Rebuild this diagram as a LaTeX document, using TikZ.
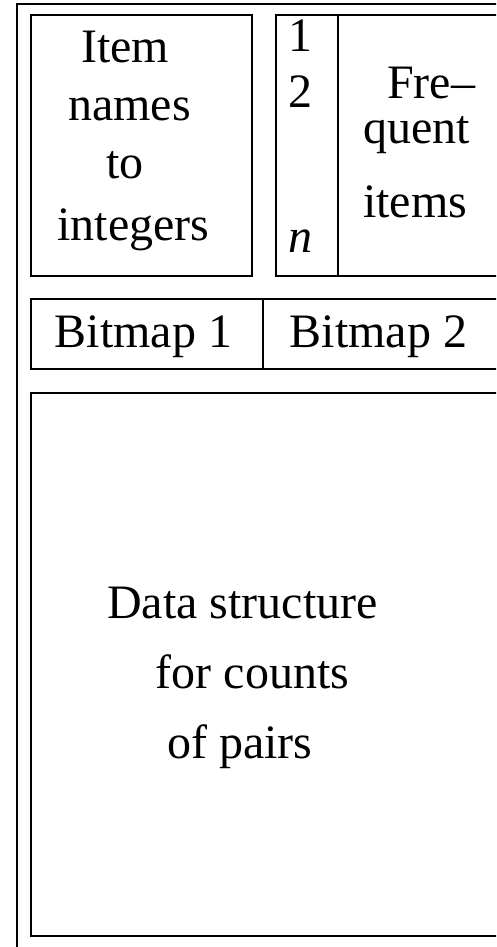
\documentclass[tikz,border=0pt]{standalone}
\usepackage{fontspec}
\setmainfont{Liberation Serif}
\tikzstyle{cell}=[draw,line width=1.5pt]
\tikzstyle{word}=[font=\fontsize{48}{58}\selectfont,inner sep=0pt,anchor=base]
\tikzstyle{leftword}=[word,anchor=base west]

\begin{document}
\begin{tikzpicture}[x=1pt,y=-1pt]
	\useasboundingbox (0,0) rectangle (496,947);
	\clip (0,0) rectangle (496,947);

	% First we draw the outer frame and the boxes
	\draw[cell] (17,4) rectangle (530,990);
	\foreach \ul/\lr in {{(31,15)/(252,276)}, {(276,15)/(338,276)}, {(338,15)/(530,276)},
		{(31,299)/(263,369)}, {(263,299)/(530,369)}, {(31,393)/(530,936)}}
	\draw[cell] \ul rectangle \lr;

	% Then the texts, one node per line
	\foreach \pos/\name/\txt in {{(125,63)/item/Item}, {(129.5,121)/names/names},
		{(125,178)/to/to}, {(133.5,240)/integers/integers},
		{(300,52)/one/1}, {(300,108)/two/2}, {(300,252)/last/\textit{n}},
		{(143.5,347)/bitmapa/Bitmap 1}, {(378.5,347)/bitmapb/Bitmap 2},
		{(242.5,618)/data/Data structure}, {(252.5,688)/counts/for counts},
		{(240,758)/pairs/of pairs}}
	\node[word] (\name) at \pos {\txt};

	\foreach \pos/\name/\txt in {{(387,99)/fre/Fre\textendash}, {(363,143)/quent/quent},
		{(363,217)/freqitems/items}}
	\node[leftword] (\name) at \pos {\txt};
\end{tikzpicture}
\end{document}
